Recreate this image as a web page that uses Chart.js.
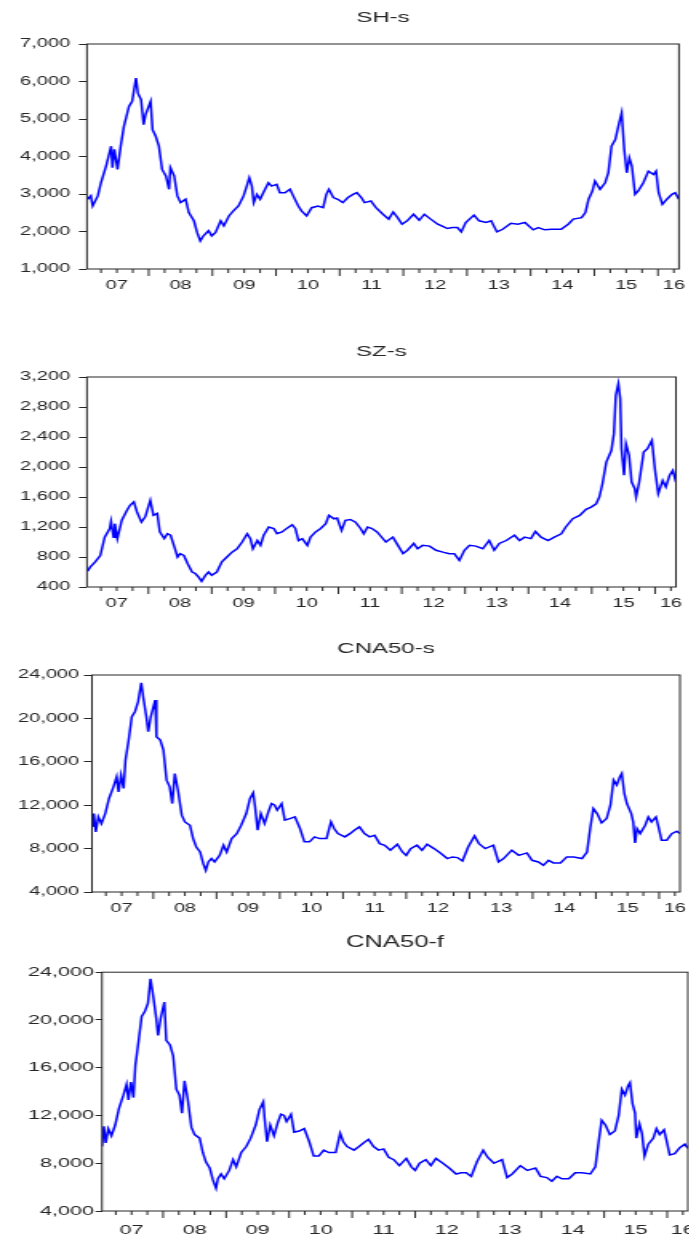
<!doctype html>
<html lang="en">
<head>
<meta charset="utf-8">
<title>SH-s, SZ-s, CNA50-s, CNA50-f</title>
<style>
  * { margin: 0; padding: 0; }
  body { width: 689px; height: 1236px; background: #fff; position: relative; overflow: hidden; }
  .panel { position: absolute; left: 0; transform-origin: 0 0; }
</style>
</head>
<body>
<div class="panel" id="p1"><canvas id="c1"></canvas></div>
<div class="panel" id="p2"><canvas id="c2"></canvas></div>
<div class="panel" id="p3"><canvas id="c3"></canvas></div>
<div class="panel" id="p4"><canvas id="c4"></canvas></div>
<script src="https://cdn.jsdelivr.net/npm/chart.js"></script>
<script>
// values (decimal year, index level)
const shDates = [2007.04,2007.09,2007.12,2007.20,2007.25,2007.33,2007.41,2007.43,2007.46,2007.51,2007.56,2007.61,2007.69,2007.74,2007.80,2007.83,2007.88,2007.92,2007.95,2008.03,2008.06,2008.11,2008.16,2008.21,2008.27,2008.32,2008.34,2008.40,2008.45,2008.50,2008.58,2008.63,2008.71,2008.76,2008.81,2008.86,2008.94,2008.99,2009.05,2009.13,2009.18,2009.26,2009.33,2009.41,2009.49,2009.54,2009.58,2009.62,2009.65,2009.70,2009.75,2009.80,2009.88,2009.93,2010.01,2010.06,2010.14,2010.22,2010.27,2010.35,2010.40,2010.48,2010.56,2010.66,2010.74,2010.79,2010.83,2010.90,2010.97,2011.05,2011.13,2011.21,2011.27,2011.34,2011.39,2011.49,2011.57,2011.68,2011.77,2011.84,2011.91,2011.98,2012.06,2012.16,2012.25,2012.33,2012.43,2012.54,2012.62,2012.69,2012.77,2012.85,2012.91,2012.98,2013.11,2013.19,2013.30,2013.38,2013.47,2013.56,2013.69,2013.80,2013.91,2014.04,2014.12,2014.22,2014.33,2014.48,2014.59,2014.67,2014.80,2014.86,2014.91,2014.97,2015.01,2015.09,2015.17,2015.22,2015.27,2015.33,2015.39,2015.43,2015.47,2015.51,2015.55,2015.59,2015.64,2015.69,2015.77,2015.85,2015.93,2015.97,2016.01,2016.07,2016.14,2016.22,2016.27,2016.33];
const shVals = [2860,2950,2680,2950,3300,3745,4275,3700,4190,3655,4275,4805,5335,5470,6090,5690,5515,4850,5115,5470,4715,4540,4275,3655,3480,3125,3700,3480,2950,2770,2860,2505,2285,1975,1750,1885,2020,1885,1975,2285,2150,2415,2550,2680,2950,3210,3435,3210,2770,2990,2860,3035,3300,3210,3255,3035,3035,3125,2950,2680,2550,2415,2635,2680,2635,2990,3125,2905,2860,2770,2905,2990,3035,2905,2770,2815,2635,2460,2330,2520,2370,2195,2285,2460,2300,2460,2330,2195,2135,2080,2105,2105,1990,2240,2435,2285,2240,2285,1990,2060,2220,2195,2240,2045,2105,2045,2060,2060,2195,2330,2370,2505,2860,3080,3345,3125,3300,3565,4275,4450,4895,5160,4185,3565,3965,3745,2990,3080,3300,3610,3520,3610,3035,2725,2860,2990,3035,2860];

const szDates = [2007.04,2007.08,2007.16,2007.24,2007.31,2007.39,2007.41,2007.45,2007.47,2007.51,2007.58,2007.66,2007.71,2007.77,2007.82,2007.89,2007.95,2008.03,2008.08,2008.14,2008.18,2008.25,2008.30,2008.35,2008.41,2008.46,2008.50,2008.56,2008.62,2008.69,2008.74,2008.79,2008.84,2008.90,2008.95,2009.00,2009.08,2009.16,2009.24,2009.32,2009.40,2009.48,2009.56,2009.61,2009.65,2009.72,2009.77,2009.82,2009.90,2009.98,2010.03,2010.11,2010.19,2010.27,2010.32,2010.37,2010.43,2010.51,2010.56,2010.64,2010.72,2010.80,2010.85,2010.93,2010.98,2011.05,2011.11,2011.19,2011.27,2011.35,2011.40,2011.46,2011.53,2011.61,2011.75,2011.86,2011.94,2012.02,2012.09,2012.19,2012.25,2012.33,2012.44,2012.54,2012.65,2012.75,2012.83,2012.91,2012.99,2013.07,2013.17,2013.28,2013.38,2013.46,2013.54,2013.65,2013.78,2013.86,2013.94,2014.04,2014.11,2014.20,2014.31,2014.41,2014.52,2014.59,2014.70,2014.81,2014.91,2014.99,2015.07,2015.12,2015.17,2015.23,2015.31,2015.35,2015.38,2015.42,2015.45,2015.47,2015.51,2015.54,2015.59,2015.63,2015.68,2015.70,2015.75,2015.82,2015.88,2015.95,2016.00,2016.05,2016.12,2016.17,2016.23,2016.28,2016.33];
const szVals = [610,665,735,820,1065,1180,1275,1065,1245,1045,1290,1420,1490,1535,1400,1265,1335,1555,1355,1380,1135,1045,1110,1090,935,800,845,820,710,600,580,535,475,555,600,555,600,735,800,865,910,1000,1110,1045,910,1020,955,1090,1200,1180,1110,1135,1185,1230,1180,1020,1045,955,1065,1135,1180,1245,1355,1310,1320,1155,1290,1300,1265,1180,1110,1200,1180,1135,1000,1065,955,845,890,980,910,955,945,890,865,845,845,755,890,955,945,910,1020,890,980,1020,1090,1020,1065,1045,1140,1065,1020,1065,1110,1200,1310,1355,1435,1465,1510,1600,1780,2065,2220,2445,2955,3110,2910,2245,1890,2310,2155,1800,1710,1600,1800,2200,2245,2355,1955,1645,1820,1735,1890,1955,1800];

const cnsDates = [2007.04,2007.06,2007.09,2007.13,2007.18,2007.24,2007.30,2007.37,2007.42,2007.45,2007.49,2007.53,2007.56,2007.61,2007.66,2007.71,2007.76,2007.81,2007.84,2007.89,2007.92,2007.96,2008.03,2008.05,2008.11,2008.16,2008.21,2008.26,2008.30,2008.34,2008.39,2008.45,2008.50,2008.58,2008.63,2008.68,2008.74,2008.79,2008.83,2008.87,2008.92,2008.97,2009.05,2009.11,2009.16,2009.24,2009.32,2009.39,2009.47,2009.53,2009.58,2009.61,2009.65,2009.70,2009.76,2009.82,2009.87,2009.92,2009.96,2010.03,2010.08,2010.16,2010.24,2010.32,2010.39,2010.47,2010.55,2010.63,2010.74,2010.81,2010.86,2010.92,2011.03,2011.11,2011.18,2011.26,2011.34,2011.42,2011.50,2011.58,2011.66,2011.75,2011.86,2011.94,2012.00,2012.07,2012.17,2012.25,2012.33,2012.44,2012.54,2012.65,2012.73,2012.81,2012.89,2012.98,2013.08,2013.15,2013.25,2013.38,2013.46,2013.54,2013.67,2013.78,2013.91,2013.99,2014.09,2014.17,2014.25,2014.33,2014.44,2014.54,2014.65,2014.78,2014.86,2014.91,2014.96,2015.02,2015.09,2015.17,2015.23,2015.28,2015.33,2015.38,2015.41,2015.45,2015.49,2015.56,2015.59,2015.62,2015.65,2015.70,2015.78,2015.83,2015.88,2015.95,2015.99,2016.04,2016.12,2016.20,2016.28,2016.33];
const cnsVals = [10000,11230,9540,10920,10310,11230,12620,13690,14620,13230,14770,13540,16150,18000,20150,20620,21540,23290,22000,20150,18770,20150,21690,18310,18000,17080,14310,13690,12150,14920,13380,11080,10460,10150,8920,8150,7690,6620,6000,6770,7080,6770,7380,8310,7690,8920,9380,10150,11230,12620,13140,11850,9690,11230,10310,11380,12150,12000,11540,12150,10620,10770,10920,9850,8620,8620,9080,8920,8920,10460,9850,9380,9080,9380,9690,10000,9380,9080,9230,8460,8310,7850,8400,7690,7380,8000,8310,7850,8400,8000,7600,7080,7230,7170,6860,8150,9170,8460,8000,8310,6770,7080,7850,7380,7600,6920,6770,6460,6920,6680,6680,7230,7230,7080,7690,9850,11690,11230,10370,10770,12000,14310,13850,14620,14920,13080,12150,11230,10460,8520,9850,9380,10150,10920,10460,10920,10000,8770,8770,9380,9600,9380];

const cnfDates = [2007.03,2007.06,2007.09,2007.13,2007.18,2007.24,2007.30,2007.37,2007.42,2007.45,2007.49,2007.53,2007.56,2007.61,2007.66,2007.71,2007.76,2007.80,2007.84,2007.89,2007.92,2007.96,2008.02,2008.05,2008.11,2008.16,2008.21,2008.26,2008.30,2008.34,2008.39,2008.45,2008.50,2008.58,2008.63,2008.68,2008.74,2008.79,2008.84,2008.87,2008.92,2008.97,2009.05,2009.11,2009.16,2009.24,2009.32,2009.39,2009.47,2009.53,2009.59,2009.61,2009.65,2009.70,2009.76,2009.82,2009.87,2009.92,2009.96,2010.03,2010.08,2010.16,2010.24,2010.32,2010.39,2010.47,2010.55,2010.63,2010.74,2010.81,2010.86,2010.92,2011.03,2011.11,2011.18,2011.26,2011.34,2011.42,2011.50,2011.58,2011.66,2011.75,2011.86,2011.94,2012.00,2012.07,2012.17,2012.25,2012.33,2012.44,2012.54,2012.65,2012.73,2012.81,2012.89,2012.98,2013.08,2013.15,2013.25,2013.38,2013.46,2013.54,2013.67,2013.78,2013.91,2013.99,2014.09,2014.17,2014.25,2014.33,2014.44,2014.54,2014.65,2014.78,2014.86,2014.91,2014.96,2015.02,2015.09,2015.17,2015.23,2015.28,2015.33,2015.38,2015.41,2015.45,2015.49,2015.51,2015.56,2015.60,2015.64,2015.70,2015.78,2015.83,2015.88,2015.95,2015.99,2016.04,2016.12,2016.20,2016.28,2016.33];
const cnfVals = [9400,11100,9700,10900,10300,11200,12600,13700,14600,13300,14800,13500,16200,18200,20300,20700,21400,23450,22100,20200,18700,20100,21500,18300,17900,17000,14200,13700,12200,14900,13400,11000,10400,10100,8900,8100,7600,6600,5900,6700,7100,6700,7400,8300,7700,8900,9400,10100,11200,12500,13150,11800,9800,11200,10300,11400,12100,12000,11500,12100,10600,10700,10900,9800,8600,8600,9100,8900,8900,10500,9800,9400,9100,9400,9700,10000,9400,9100,9200,8500,8300,7800,8400,7700,7400,8000,8300,7800,8400,8000,7600,7100,7200,7200,6900,8100,9100,8500,8000,8300,6800,7100,7800,7400,7600,6900,6800,6500,6900,6700,6700,7200,7200,7100,7700,9700,11600,11200,10400,10700,12000,14200,13700,14500,14750,13000,12200,10100,11300,10500,8600,9600,10100,10900,10400,10800,9900,8700,8800,9300,9600,9250];

const xTickPos = [2007.5, 2008.5, 2009.5, 2010.5, 2011.5, 2012.5, 2013.5, 2014.5, 2015.5, 2016.25];
const xTickText = ['07', '08', '09', '10', '11', '12', '13', '14', '15', '16'];
const X_MIN = 2007.03, X_MAX = 2016.33;

const STRETCH = 1.6;
const CW = 431;
const FONT = '"Liberation Sans", Arial, sans-serif';
const INK = '#262626';

// plot frame + quarterly tick marks on the time axis
const framePlugin = {
  id: 'frame',
  afterDraw(chart) {
    const {ctx, chartArea: a} = chart;
    const x = chart.scales.x;
    ctx.save();
    ctx.strokeStyle = INK;
    ctx.lineWidth = 1;
    ctx.strokeRect(a.left, a.top, a.right - a.left, a.bottom - a.top);
    for (let q = 2007; q <= 2016.5; q += 0.25) {
      if (q < x.min || q > x.max) continue;
      const px = x.getPixelForValue(q);
      const len = Number.isInteger(q) ? 7 : 4;
      ctx.beginPath();
      ctx.moveTo(px, a.bottom);
      ctx.lineTo(px, a.bottom + len);
      ctx.stroke();
    }
    ctx.restore();
  }
};

function makePanel(n, cfg) {
  const wrap = document.getElementById('p' + n);
  const canvas = document.getElementById('c' + n);
  wrap.style.top = cfg.top + 'px';
  wrap.style.width = CW + 'px';
  wrap.style.height = cfg.height + 'px';
  wrap.style.transform = 'scaleX(' + STRETCH + ')';
  canvas.width = CW;
  canvas.height = cfg.height;

  new Chart(canvas, {
    type: 'line',
    data: {
      datasets: [{
        data: cfg.dates.map((d, i) => ({x: d, y: cfg.values[i]})),
        borderColor: '#0000ff',
        borderWidth: 1.5,
        pointRadius: 0,
        tension: 0,
        fill: false
      }]
    },
    options: {
      responsive: false,
      animation: false,
      events: [],
      layout: { padding: { left: 0, top: 0, bottom: 0, right: CW - cfg.right / STRETCH } },
      plugins: {
        legend: { display: false },
        tooltip: { enabled: false },
        title: {
          display: true,
          text: cfg.title,
          fullSize: false,
          color: INK,
          font: { family: FONT, size: cfg.titleSize, weight: 'normal', lineHeight: 1.2 },
          padding: { top: 1, bottom: cfg.titlePad }
        }
      },
      scales: {
        x: {
          type: 'linear',
          min: X_MIN,
          max: X_MAX,
          grid: { display: false, drawTicks: false },
          border: { display: false },
          ticks: {
            autoSkip: false,
            maxRotation: 0,
            padding: cfg.xPad,
            color: INK,
            font: { family: FONT, size: cfg.tickSize },
            callback: (v, i) => xTickText[i]
          },
          afterBuildTicks: s => { s.ticks = xTickPos.map(v => ({value: v})); },
          afterFit: s => { s.height = 26; s.paddingLeft = 0; s.paddingRight = 0; }
        },
        y: {
          min: cfg.yMin,
          max: cfg.yMax,
          ticks: {
            stepSize: cfg.yStep,
            padding: cfg.yPad,
            color: INK,
            font: { family: FONT, size: cfg.tickSize },
            callback: v => v.toLocaleString('en-US')
          },
          grid: { drawOnChartArea: false, drawTicks: true, tickLength: cfg.yTick, tickColor: INK, tickWidth: 1 },
          border: { display: false },
          afterFit: s => { s.width = cfg.left / STRETCH; s.paddingTop = 0; s.paddingBottom = 0; }
        }
      }
    },
    plugins: [framePlugin]
  });
}

makePanel(1, { title: 'SH-s', dates: shDates, values: shVals, top: 8, height: 287, titlePad: 17, titleSize: 15, tickSize: 12.5,
  left: 87, right: 679, yMin: 1000, yMax: 7000, yStep: 1000, yPad: 5.5, yTick: 5, xPad: 9 });
makePanel(2, { title: 'SZ-s', dates: szDates, values: szVals, top: 342, height: 271, titlePad: 16, titleSize: 15, tickSize: 12.5,
  left: 87, right: 676, yMin: 400, yMax: 3200, yStep: 400, yPad: 5.5, yTick: 5, xPad: 9 });
makePanel(3, { title: 'CNA50-s', dates: cnsDates, values: cnsVals, top: 639, height: 279, titlePad: 17, titleSize: 15, tickSize: 12.5,
  left: 92, right: 680, yMin: 4000, yMax: 24000, yStep: 4000, yPad: 3, yTick: 5, xPad: 9 });
makePanel(4, { title: 'CNA50-f', dates: cnfDates, values: cnfVals, top: 932, height: 305, titlePad: 20, titleSize: 16, tickSize: 13.5,
  left: 102, right: 688, yMin: 4000, yMax: 24000, yStep: 4000, yPad: 1, yTick: 4, xPad: 11 });
</script>
</body>
</html>
